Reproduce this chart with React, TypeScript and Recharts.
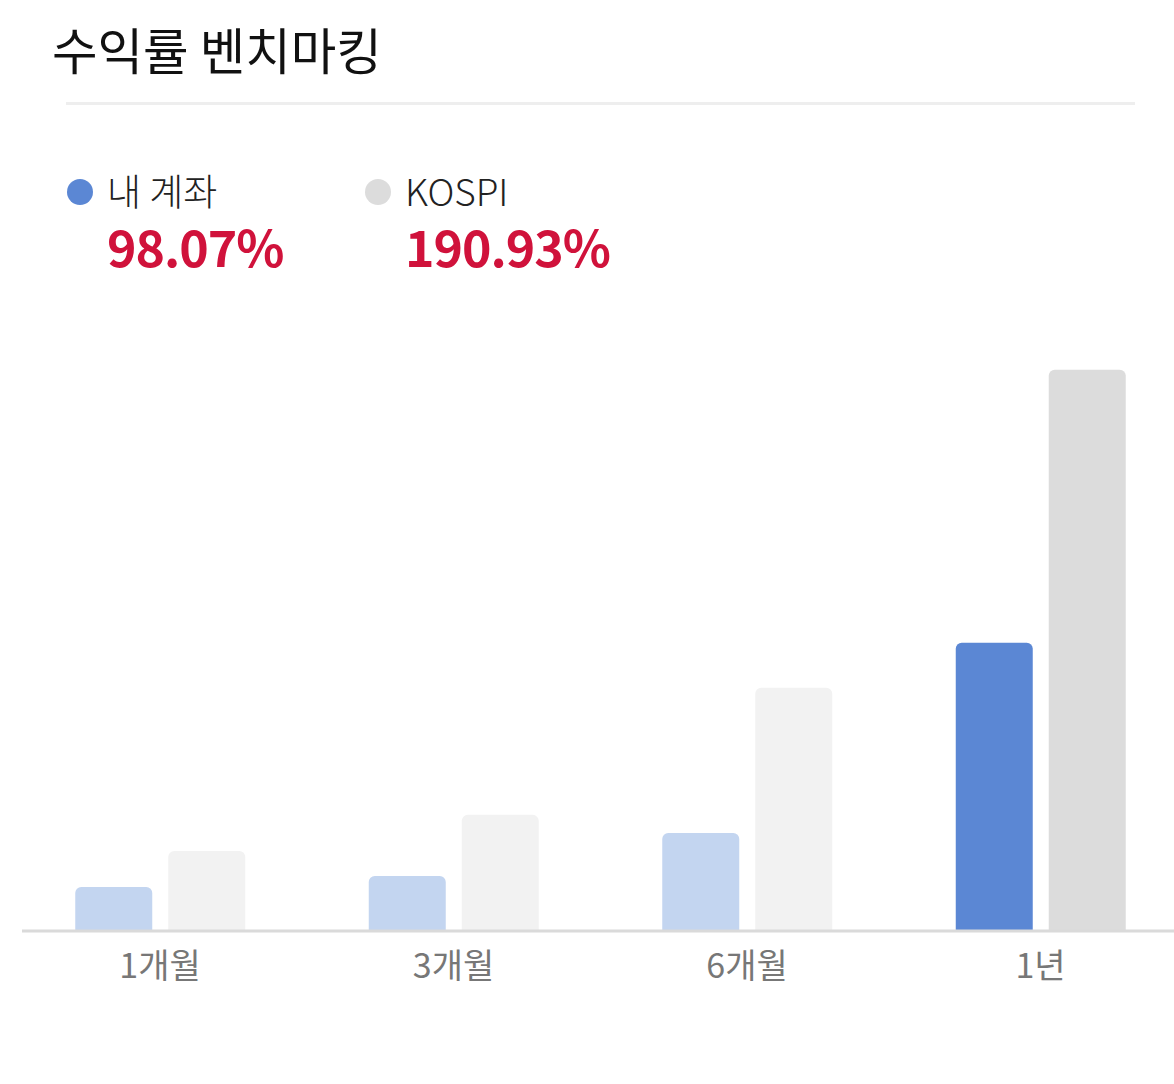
import { BarChart, Bar, XAxis, YAxis, Cell } from "recharts";

const periods = ["1개월", "3개월", "6개월", "1년"];
const myAccount = [15.0, 18.7, 33.3, 98.07];
const kospi = [27.2, 39.5, 82.7, 190.93];
const seriesNames = ["내 계좌", "KOSPI"];
const totals = ["98.07%", "190.93%"];

const FONT = '"Noto Sans CJK KR", "Noto Sans", sans-serif';
const BLUE_DIM = "#C3D5F0";
const BLUE = "#5B87D4";
const GRAY_DIM = "#F2F2F2";
const GRAY = "#DCDCDC";
const RED = "#D0123B";

const data = periods.map((p, i) => ({ period: p, mine: myAccount[i], kospi: kospi[i] }));
const lastIdx = periods.length - 1;

function LegendItem({ left, dot, name, value }: { left: number; dot: string; name: string; value: string }) {
  return (
    <>
      <div
        style={{
          position: "absolute",
          left: left - 13,
          top: 179,
          width: 26,
          height: 26,
          borderRadius: 13,
          background: dot,
        }}
      />
      <div
        style={{
          position: "absolute",
          left: left + 27,
          top: 172,
          fontSize: 37,
          lineHeight: "37px",
          fontWeight: 300,
          color: "#222",
          whiteSpace: "nowrap",
        }}
      >
        {name}
      </div>
      <div
        style={{
          position: "absolute",
          left: left + 27,
          top: 220,
          fontSize: 50,
          lineHeight: "50px",
          fontWeight: 700,
          color: RED,
          letterSpacing: -1,
          whiteSpace: "nowrap",
        }}
      >
        {value}
      </div>
    </>
  );
}

export default function App() {
  return (
    <div
      style={{
        position: "absolute",
        left: 0,
        top: 0,
        width: 1174,
        height: 1084,
        background: "#fff",
        fontFamily: FONT,
        overflow: "hidden",
      }}
    >
      <div
        style={{
          position: "absolute",
          left: 52,
          top: 24,
          fontSize: 49.5,
          lineHeight: "50px",
          color: "#111",
          whiteSpace: "nowrap",
        }}
      >
        수익률 벤치마킹
      </div>
      <div style={{ position: "absolute", left: 66, top: 102, width: 1069, height: 3, background: "#EEEEEE" }} />
      <LegendItem left={80} dot={BLUE} name={seriesNames[0]} value={totals[0]} />
      <LegendItem left={378} dot={GRAY} name={seriesNames[1]} value={totals[1]} />

      <div style={{ position: "absolute", left: 0, top: 0 }}>
        <BarChart
          width={1174}
          height={1084}
          data={data}
          margin={{ top: 343, right: 0, bottom: 0, left: 22 }}
          barGap={16}
          barSize={77}
        >
          <XAxis
            dataKey="period"
            padding={{ left: -8.75, right: -13.25 }}
            axisLine={{ stroke: "#DADADA", strokeWidth: 3 }}
            tickLine={false}
            tickSize={0}
            tickMargin={23}
            tick={{ fill: "#777", fontSize: 34, fontFamily: FONT }}
            interval={0}
            height={153}
          />
          <YAxis hide domain={[0, 200]} />
          <Bar dataKey="mine" radius={[6, 6, 0, 0]} isAnimationActive={false}>
            {data.map((_, i) => (
              <Cell key={i} fill={i === lastIdx ? BLUE : BLUE_DIM} />
            ))}
          </Bar>
          <Bar dataKey="kospi" radius={[6, 6, 0, 0]} isAnimationActive={false}>
            {data.map((_, i) => (
              <Cell key={i} fill={i === lastIdx ? GRAY : GRAY_DIM} />
            ))}
          </Bar>
        </BarChart>
      </div>
    </div>
  );
}
